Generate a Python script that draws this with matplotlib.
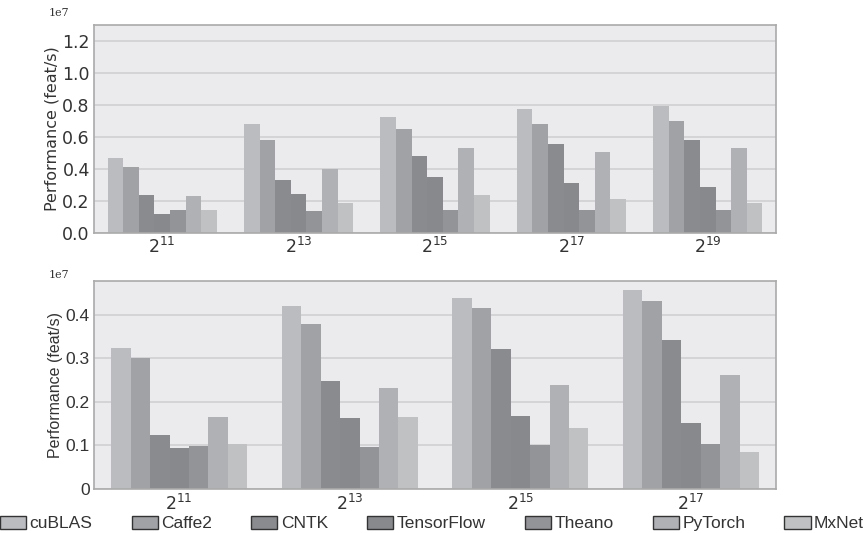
import numpy as np
import matplotlib
matplotlib.use("Agg")
import matplotlib.pyplot as plt
from matplotlib.patches import Patch

# Frameworks and their bar colours
frameworks = ['cuBLAS', 'Caffe2', 'CNTK', 'TensorFlow', 'Theano', 'PyTorch', 'MxNet']
colors = ['#bbbcc0', '#a1a2a6', '#8a8b8f', '#88898d', '#939498', '#b0b1b5', '#c0c1c3']

# Top panel: performance (units of 1e7 feat/s)
top_labels = ['$2^{11}$', '$2^{13}$', '$2^{15}$', '$2^{17}$', '$2^{19}$']
top_cublas = [0.468, 0.680, 0.723, 0.773, 0.792]
top_caffe2 = [0.412, 0.580, 0.649, 0.680, 0.699]
top_cntk = [0.237, 0.331, 0.480, 0.555, 0.580]
top_tensorflow = [0.118, 0.243, 0.349, 0.312, 0.287]
top_theano = [0.143, 0.137, 0.143, 0.143, 0.143]
top_pytorch = [0.231, 0.399, 0.530, 0.505, 0.530]
top_mxnet = [0.143, 0.187, 0.237, 0.212, 0.187]

# Bottom panel: performance (units of 1e7 feat/s)
bot_labels = ['$2^{11}$', '$2^{13}$', '$2^{15}$', '$2^{17}$']
bot_cublas = [0.323, 0.419, 0.438, 0.456]
bot_caffe2 = [0.300, 0.378, 0.415, 0.431]
bot_cntk = [0.123, 0.247, 0.321, 0.341]
bot_tensorflow = [0.093, 0.162, 0.167, 0.151]
bot_theano = [0.098, 0.096, 0.100, 0.103]
bot_pytorch = [0.164, 0.231, 0.238, 0.261]
bot_mxnet = [0.103, 0.164, 0.139, 0.084]

top_series = [top_cublas, top_caffe2, top_cntk, top_tensorflow, top_theano, top_pytorch, top_mxnet]
bot_series = [bot_cublas, bot_caffe2, bot_cntk, bot_tensorflow, bot_theano, bot_pytorch, bot_mxnet]

fig = plt.figure(figsize=(8.64, 5.33), dpi=100)
ax1 = fig.add_axes([0.1088, 0.5629, 0.7894, 0.3901])
ax2 = fig.add_axes([0.1088, 0.0831, 0.7894, 0.3903])

width = 0.8 / 7


def draw_panel(ax, series, labels, ylim, yticks, yticklabels, tickfont):
    x = np.arange(len(labels))
    for i, vals in enumerate(series):
        ax.bar(x - 0.4 + width * (i + 0.5), vals, width, color=colors[i], linewidth=0, zorder=2)
    ax.set_facecolor('#ebebee')
    ax.set_xlim(-0.5, len(labels) - 0.5)
    ax.set_ylim(*ylim)
    ax.set_yticks(yticks)
    ax.set_yticklabels(yticklabels, family=tickfont, fontsize=12.5, color='#333333')
    ax.set_xticks(x)
    ax.set_xticklabels(labels, family=tickfont, fontsize=12.5, color='#333333')
    ax.tick_params(length=0, pad=3)
    ax.grid(axis='y', color='#d0d0d3', linewidth=1.2, zorder=1)
    ax.set_axisbelow(True)
    for s in ax.spines.values():
        s.set_color('#aaaaaa')
        s.set_linewidth(1.2)
    ax.set_ylabel('Performance (feat/s)', family=tickfont, fontsize=11.5, color='#333333', labelpad=2)


draw_panel(ax1, top_series, top_labels, (0, 1.3),
           [0, 0.2, 0.4, 0.6, 0.8, 1.0, 1.2],
           ['0.0', '0.2', '0.4', '0.6', '0.8', '1.0', '1.2'], 'DejaVu Sans')
draw_panel(ax2, bot_series, bot_labels, (0, 0.478),
           [0, 0.1, 0.2, 0.3, 0.4],
           ['0', '0.1', '0.2', '0.3', '0.4'], 'Liberation Sans')

# scale markers
fig.text(0.056, 0.975, '1e7', family='DejaVu Serif', fontsize=8, color='#333333', va='center')
fig.text(0.056, 0.484, '1e7', family='DejaVu Serif', fontsize=8, color='#333333', va='center')

handles = [Patch(facecolor=c, edgecolor='#333333', linewidth=1.0) for c in colors]
fig.legend(handles, frameworks, loc='lower left', bbox_to_anchor=(0.0, 0.003, 1.0, 0.04),
           mode='expand', ncol=7, frameon=False, handlelength=1.5, handleheight=0.75,
           handletextpad=0.2, borderaxespad=0, borderpad=0,
           prop={'family': 'Liberation Sans', 'size': 12.5}, labelcolor='#333333')

fig.savefig('out.png', dpi=100)
